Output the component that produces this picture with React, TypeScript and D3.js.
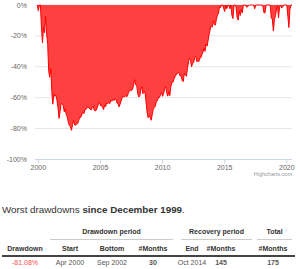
import React from "react";
import * as d3 from "d3";

const startYear = 1999;
const startMonth = 11; // December (0-based)

const drawdown: number[] = [
  0,
  -3.7, 0, 0, -14.2, -24.4, -14.4, -17.9, -7.3, -18.8, -25.4, -43.0, -46.8,
  -41.0, -56.6, -64.2, -57.8, -59.1, -58.4, -61.7, -66.6, -73.4, -69.0, -63.7, -64.1,
  -64.8, -69.1, -67.0, -71.0, -72.5, -76.1, -78.1, -78.6, -81.08, -77.5, -74.6, -77.6,
  -77.8, -77.1, -76.8, -74.8, -72.6, -72.7, -70.9, -69.5, -70.3, -67.8, -67.6, -66.6,
  -65.9, -66.7, -67.2, -68.0, -66.5, -65.4, -68.0, -68.7, -67.9, -66.2, -64.0, -63.0,
  -65.2, -65.4, -66.0, -67.7, -64.9, -65.8, -63.2, -63.8, -63.3, -63.8, -61.5, -62.3,
  -60.9, -61.8, -60.8, -60.9, -63.5, -63.8, -65.9, -64.2, -61.9, -60.1, -59.2, -59.6,
  -58.7, -59.2, -59.1, -56.8, -55.5, -55.3, -55.4, -54.6, -51.7, -48.3, -51.7, -51.9,
  -57.3, -59.6, -58.7, -55.0, -52.9, -57.4, -56.6, -56.2, -62.8, -69.2, -73.0, -71.9,
  -72.6, -74.6, -71.1, -67.5, -66.3, -65.5, -62.7, -61.9, -59.9, -59.9, -58.1, -56.6,
  -59.1, -57.3, -54.1, -52.9, -56.7, -59.0, -56.2, -58.7, -52.7, -50.0, -50.1, -48.0,
  -46.4, -45.1, -44.7, -43.6, -44.0, -46.1, -45.7, -49.1, -49.5, -44.1, -45.5, -46.1,
  -41.2, -36.8, -34.3, -35.7, -40.0, -37.7, -37.3, -33.9, -33.3, -36.6, -36.2, -36.6,
  -34.3, -34.1, -32.2, -30.5, -28.1, -30.0, -25.5, -26.6, -22.6, -18.7, -15.8, -13.6,
  -14.2, -10.2, -12.7, -13.0, -9.3, -6.5, -5.6, -0.9, -1.7, 0, 0, -2.3,
  -4.2, 0, -2.4, -0.6, 0, -2.4, 0, -6.8, -8.8, 0, 0, -1.4,
  -8.1, -9.8, -3.8, -6.8, -2.9, -5.1, 0, 0, 0, -1.4, -1.2, -0.2,
  0, 0, 0, 0, 0, -2.4, 0, 0, -0.1, 0, 0, 0,
  0, -1.3, -5.2, -4.9, 0, 0, 0, 0, 0, -8.6, -8.8, -16.9,
  -9.4, -6.8, -3.2, 0, -8.4, -1.4, 0, -2.0, -1.2, 0, 0, 0,
  0, -7.5, -14.6, -2.8, 0, 0,
];

const yTicks = [0, -20, -40, -60, -80, -100];
const xTickYears = [2000, 2005, 2010, 2015, 2020];

const titleNormal = "Worst drawdowns ";
const titleBold = "since December 1999";
const groupHeaders = ["Drawdown period", "Recovery period", "Total"];
const columnHeaders = ["Drawdown", "Start", "Bottom", "#Months", "End", "#Months", "#Months"];
const rowValues = ["-81.08%", "Apr 2000", "Sep 2002", "30", "Oct 2014", "145", "175"];

const FONT = "'Liberation Sans', Arial, Helvetica, sans-serif";

export default function App() {
  const W = 300, H = 269;
  const plotLeft = 35, plotRight = 292, plotTop = 5, plotBottom = 159.5;

  const data = drawdown.map((v, i) => ({ date: new Date(startYear, startMonth + i, 1), v }));
  const x = d3.scaleTime()
    .domain([new Date(1999, 11, 1), new Date(2020, 5, 1)])
    .range([37.3, 292]);
  const y = d3.scaleLinear().domain([-100, 0]).range([plotBottom, plotTop]);

  const area = d3.area<{ date: Date; v: number }>()
    .x(d => x(d.date)).y0(y(0)).y1(d => y(d.v));
  const line = d3.line<{ date: Date; v: number }>()
    .x(d => x(d.date)).y(d => y(d.v));

  const colCenters = [25, 70, 112, 153, 192, 221, 273];
  const groupSpans: [number, number][] = [[50, 173], [181, 252], [257, 292]];

  return (
    <svg width={W} height={H} style={{ position: "fixed", left: 0, top: 0, background: "#fff" }} fontFamily={FONT}>
      <rect width={W} height={H} fill="#fff" />
      {yTicks.map(t => (
        <g key={t}>
          <line x1={plotLeft} x2={plotRight} y1={y(t)} y2={y(t)} stroke="#e6e6e6" strokeWidth={1} />
          <text x={27} y={y(t) + 2.5} fontSize={7} fill="#666" textAnchor="end">{t}%</text>
        </g>
      ))}
      <path d={area(data) ?? ""} fill="rgb(255,64,64)" />
      <path d={line(data) ?? ""} fill="none" stroke="#ff0000" strokeWidth={1} />
      <line x1={plotLeft} x2={plotRight} y1={plotBottom} y2={plotBottom} stroke="#ccd6eb" strokeWidth={1} />
      {xTickYears.map(yr => {
        const xp = x(new Date(yr, 0, 1));
        return (
          <g key={yr}>
            <line x1={xp} x2={xp} y1={plotBottom} y2={plotBottom + 4} stroke="#ccd6eb" strokeWidth={1} />
            <text x={xp} y={170} fontSize={7} fill="#666" textAnchor="middle">{yr}</text>
          </g>
        );
      })}
      <text x={292} y={176} fontSize={5.5} fill="#999" textAnchor="end">Highcharts.com</text>

      <text x={2} y={212.5} fontSize={9.8} fill="#333">
        {titleNormal}<tspan fontWeight="bold">{titleBold}</tspan>.
      </text>

      {groupHeaders.map((g, i) => (
        <g key={g}>
          <text x={(groupSpans[i][0] + groupSpans[i][1]) / 2} y={233.5} fontSize={7} fontWeight="bold" fill="#333" textAnchor="middle">{g}</text>
          <line x1={groupSpans[i][0]} x2={groupSpans[i][1]} y1={239.5} y2={239.5} stroke="#ccc" strokeWidth={1} />
        </g>
      ))}
      {columnHeaders.map((c, i) => (
        <text key={i} x={colCenters[i]} y={250.5} fontSize={7} fontWeight="bold" fill="#333" textAnchor="middle">{c}</text>
      ))}
      <line x1={2} x2={295} y1={256} y2={256} stroke="#444" strokeWidth={2} />
      {rowValues.map((v, i) => (
        <text key={i} x={colCenters[i]} y={264.5} fontSize={7}
          fontWeight={i === 3 || i === 5 || i === 6 ? "bold" : "normal"}
          fill={i === 0 ? "#ff4d4d" : "#555"} textAnchor="middle">{v}</text>
      ))}
    </svg>
  );
}
